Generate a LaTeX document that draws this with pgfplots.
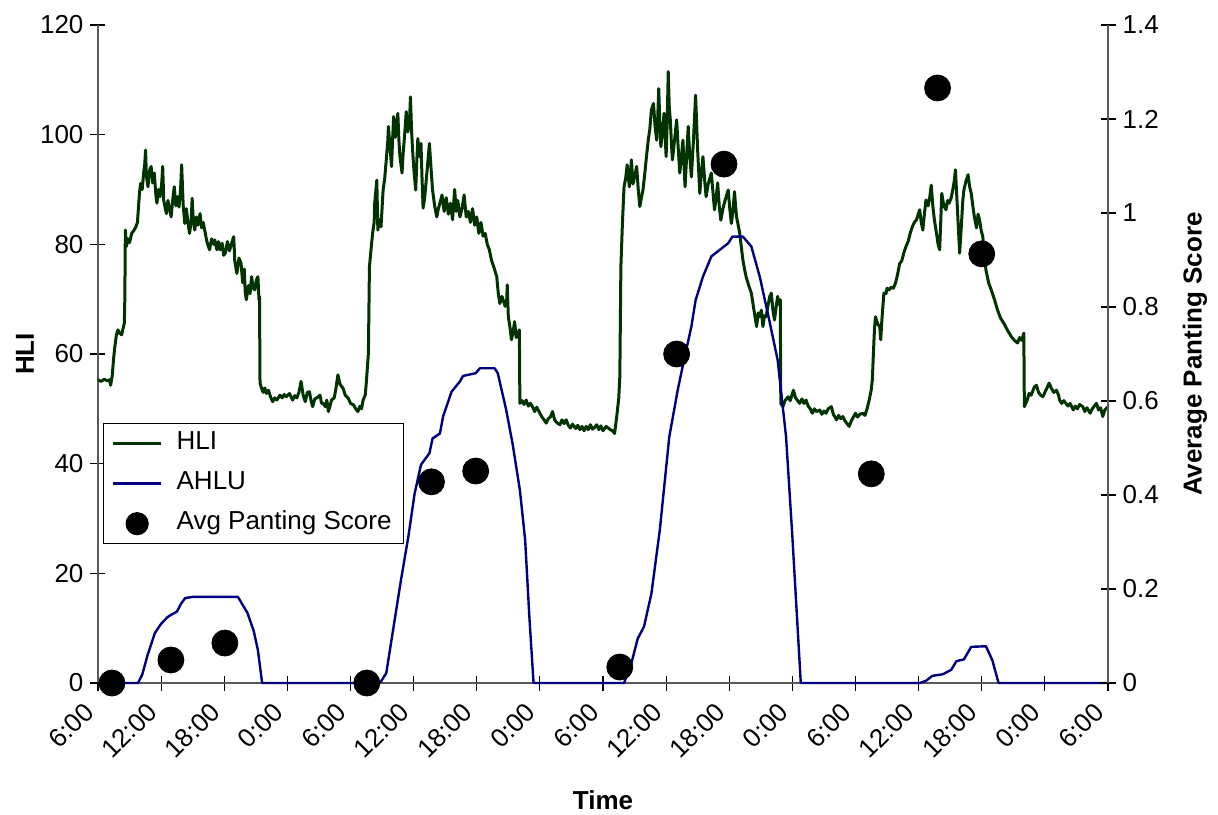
\documentclass[border=0pt]{standalone}
\usepackage{fontspec}
\setmainfont{Liberation Sans}
\usepackage{pgfplots}
\pgfplotsset{compat=1.18}
\definecolor{hli}{RGB}{0,51,0}
\definecolor{ahlu}{RGB}{0,0,128}
\pgfplotsset{
  common/.style={
    scale only axis, width=505pt, height=329pt,
    at={(0,0)}, anchor=south west,
    xmin=0, xmax=96,
    tick align=center, major tick length=7.5pt,
    every tick/.style={black, line width=0.6pt},
    /pgf/number format/assume math mode=true,
    tick label style={font=\fontsize{13}{15}\selectfont},
    label style={font=\bfseries\fontsize{13}{15}\selectfont},
    axis line style={black!65, line width=1pt},
    clip=false,
  }
}
\begin{document}
\begin{tikzpicture}
\path[use as bounding box] (-49pt,-65.5pt) rectangle (560pt,341.5pt);
\begin{axis}[common,
  axis x line*=bottom, axis y line*=left,
  ymin=0, ymax=120, ytick={0,20,40,60,80,100,120},
  xtick={0,6,...,96},
  xticklabels={6:00,12:00,18:00,0:00,6:00,12:00,18:00,0:00,6:00,12:00,18:00,0:00,6:00,12:00,18:00,0:00,6:00},
  xticklabel style={xshift=-2pt, yshift=-6pt, rotate=45, anchor=east},
  xlabel={Time}, ylabel={HLI},
  xlabel style={at={([yshift=-58.5pt]axis description cs:0.5,0)}, anchor=center},
  ylabel style={at={([xshift=-36.5pt]axis description cs:0,0.5)}, anchor=center},
]
\addplot[hli, line width=1.5pt, line join=round] coordinates {
(0,55.3) (0.3,55.0) (0.6,55.4) (0.9,55.1) (1.1,55.3) (1.2,54.3) (1.35,56) (1.5,59.5) (1.6,61.3) (1.75,63.5) (1.9,64.4) (2.05,63.8) (2.25,63.5) (2.4,64.8) (2.5,65.6) (2.55,70) (2.6,82.6) (2.7,79.6) (2.85,81.0) (3.0,80.3) (3.2,82.0) (3.4,82.5) (3.6,83.2) (3.75,84.0) (3.85,86.9) (3.95,89.5) (4.05,91.1) (4.2,90.0) (4.35,93.2) (4.45,94.8) (4.52,97.2) (4.6,92.5) (4.75,90.5) (4.9,93.5) (5.05,94.2) (5.2,91.2) (5.35,93.0) (5.5,89.0) (5.6,87.5) (5.75,90.0) (5.9,88.7) (6.05,91.0) (6.15,94.2) (6.25,88.0) (6.4,86.5) (6.5,85.6) (6.65,88.0) (6.8,86.5) (6.95,85.0) (7.1,88.0) (7.25,90.5) (7.4,87.0) (7.55,88.7) (7.7,86.8) (7.85,90.0) (7.95,94.5) (8.1,87.0) (8.25,83.8) (8.4,86.5) (8.55,84.0) (8.7,82.0) (8.85,84.0) (8.95,88.4) (9.05,84.5) (9.2,82.6) (9.35,85.0) (9.5,83.5) (9.7,85.6) (9.85,83.0) (10.0,84.0) (10.2,82.0) (10.35,80.5) (10.6,79.0) (10.8,81.0) (11.0,80.0) (11.1,80.8) (11.3,79.0) (11.45,80.5) (11.6,79.0) (11.8,80.2) (11.95,78.0) (12.1,78.4) (12.3,80.5) (12.5,78.8) (12.7,80.2) (12.9,81.4) (13.0,77.0) (13.2,74.7) (13.4,77.5) (13.6,76.5) (13.75,73.0) (13.9,75.5) (14.0,71.1) (14.1,69.9) (14.3,72.5) (14.45,71.0) (14.6,74.1) (14.75,72.0) (14.9,71.7) (15.05,73.5) (15.2,74.1) (15.3,69.9) (15.35,70.5) (15.4,54.7)
(15.5,54.0) (15.7,53.0) (15.85,53.8) (16.0,52.8) (16.2,53.4) (16.4,52.2) (16.6,51.3) (16.8,52.0) (17.0,51.6) (17.3,52.5) (17.5,52.0) (17.7,52.6) (17.9,52.2) (18.2,52.8) (18.5,51.6) (18.7,52.4) (18.9,52.0) (19.1,53.0) (19.3,55.0) (19.5,52.5) (19.7,51.3) (19.9,53.0) (20.1,53.1) (20.25,51.5) (20.4,50.4) (20.6,51.8) (20.8,52.0) (21.1,52.5) (21.25,51.0) (21.4,51.0) (21.6,50.4) (21.75,51.6) (21.9,49.5) (22.05,50.5) (22.2,51.6) (22.45,52.0) (22.6,53.5) (22.8,56.2) (23.0,54.5) (23.3,53.7) (23.5,52.5) (23.8,51.9) (24.0,51.0) (24.3,50.7) (24.5,50.0) (24.7,49.5) (24.9,50.5) (25.05,50.0) (25.2,51.6) (25.4,52.5) (25.5,54.7) (25.7,60.1) (25.8,75.9) (25.95,79.0) (26.1,82.0) (26.25,84.0) (26.3,87.5) (26.5,91.7) (26.6,82.6) (26.75,84.5) (26.9,83.2) (27.1,89.9) (27.25,92.0) (27.4,95.4) (27.55,99.0) (27.6,101.5) (27.75,98.0) (27.9,94.2) (28.0,99.0) (28.1,103.3) (28.25,99.5) (28.4,102.1) (28.5,103.9) (28.6,99.0) (28.7,96.0) (28.9,93.0) (29.0,96.5) (29.15,100.0) (29.3,104.2) (29.45,100.5) (29.6,102.1) (29.7,106.9) (29.8,101.0) (29.9,97.2) (30.05,93.0) (30.2,89.9) (30.3,95.0) (30.4,99.3) (30.55,96.0) (30.7,98.4) (30.8,92.0) (30.9,86.6) (31.05,88.5) (31.2,91.7) (31.35,95.0) (31.5,98.4) (31.65,94.0) (31.8,89.9) (32.0,87.0) (32.2,85.0) (32.35,86.5) (32.5,87.5)
(32.7,89.0) (32.9,86.0) (33.1,88.5) (33.3,85.5) (33.5,87.5) (33.7,84.5) (33.9,90.0) (34.05,86.0) (34.2,88.0) (34.4,85.0) (34.6,86.5) (34.8,89.0) (35.0,85.0) (35.2,86.0) (35.4,84.0) (35.6,86.5) (35.8,83.5) (36.0,85.0) (36.2,82.0) (36.4,84.0) (36.6,81.5) (36.8,82.0) (37.0,80.0) (37.2,79.0) (37.4,77.1) (37.6,76.0) (37.9,74.1) (38.05,71.0) (38.2,69.2) (38.4,70.5) (38.7,68.7) (38.85,70.0) (38.9,72.6) (39.0,66.8) (39.15,65.0) (39.3,62.6) (39.45,64.0) (39.6,65.9) (39.75,63.0) (39.9,63.5) (40.05,64.4) (40.1,51.0) (40.3,51.5) (40.5,50.8) (40.7,51.6) (40.9,50.5) (41.1,51.0) (41.3,50.4) (41.5,49.5) (41.7,50.3) (42.0,49.2) (42.2,48.5) (42.4,48.0) (42.6,47.4) (42.8,48.2) (43.0,48.5) (43.2,49.5) (43.4,48.0) (43.6,47.5) (43.9,47.1) (44.1,48.0) (44.3,47.3) (44.5,48.0) (44.7,47.0) (44.9,46.5) (45.1,47.2) (45.4,46.4) (45.6,47.0) (45.8,46.2) (46.0,46.8) (46.2,46.0) (46.4,46.8) (46.6,46.2) (46.8,47.1) (47.0,46.3) (47.2,46.6) (47.4,47.1) (47.6,46.2) (47.8,46.9) (48.0,46.0) (48.3,46.8) (48.5,46.5) (48.7,46.2) (48.9,46.0) (49.1,45.5) (49.3,48.5) (49.5,52.0) (49.6,55.9) (49.7,75.9) (49.85,84.0) (50.0,90.5) (50.15,92.0) (50.3,94.5) (50.5,90.5) (50.7,95.4) (50.85,91.0) (51.0,92.3) (51.2,94.2) (51.35,90.0) (51.5,86.9) (51.65,88.5) (51.8,89.9) (51.95,92.5) (52.1,95.4) (52.3,99.0) (52.45,101.0) (52.6,104.5) (52.8,105.7) (52.95,101.5) (53.1,99.0) (53.2,103.0) (53.3,108.4) (53.4,102.0) (53.5,97.8) (53.65,100.5) (53.8,103.9) (53.9,100.0) (54.0,96.0) (54.1,102.0) (54.2,111.5) (54.3,105.0) (54.4,102.7) (54.5,98.5) (54.6,95.4) (54.8,99.0) (55.0,102.7) (55.15,97.5) (55.3,93.0) (55.45,96.0) (55.6,99.0) (55.7,94.5) (55.8,90.5) (55.95,96.0) (56.1,101.5) (56.25,96.0) (56.4,92.3) (56.6,99.0) (56.8,107.2) (57.0,97.0) (57.2,89.3) (57.35,93.0) (57.5,96.0) (57.65,92.0) (57.8,88.7) (58.0,91.0) (58.3,93.0) (58.45,89.5) (58.6,86.3) (58.75,88.5) (58.9,91.2) (59.05,87.0) (59.2,84.4) (59.4,86.5) (59.6,88.0) (59.9,89.9) (60.05,86.5) (60.2,83.8) (60.35,86.0) (60.5,89.6) (60.6,87.0) (60.7,85.0) (60.85,83.5) (61.0,82.0) (61.15,79.5) (61.3,77.1) (61.45,75.5) (61.6,74.1) (61.85,72.5) (62.1,71.1) (62.35,68.0) (62.6,65.0) (62.75,67.5) (62.9,66.8) (63.05,68.0) (63.2,65.0) (63.35,67.0) (63.5,66.8) (63.7,69.0) (63.85,70.5) (64.0,71.1) (64.15,68.0) (64.3,66.2) (64.45,68.5) (64.6,70.5) (64.75,69.0) (64.85,69.9) (64.9,51.0)
(65.1,50.4) (65.3,51.5) (65.6,52.2) (65.8,51.5) (66.1,53.4) (66.3,52.0) (66.5,51.5) (66.7,51.0) (66.9,51.8) (67.1,51.0) (67.3,51.6) (67.5,50.5) (67.7,50.0) (67.9,49.2) (68.1,50.0) (68.3,49.5) (68.6,49.8) (68.8,49.0) (69.0,49.6) (69.2,49.2) (69.4,50.0) (69.7,50.4) (69.9,49.0) (70.2,48.0) (70.4,48.8) (70.6,48.2) (70.8,48.6) (71.0,47.8) (71.2,47.3) (71.4,46.8) (71.6,47.8) (71.8,48.5) (72.0,49.2) (72.2,48.5) (72.4,49.0) (72.7,49.2) (72.9,48.8) (73.1,50.0) (73.3,51.6) (73.5,53.5) (73.6,55.3) (73.7,60.0) (73.8,64.4) (73.9,66.8) (74.1,65.5) (74.3,65.0) (74.4,62.6) (74.5,66.0) (74.7,71.1) (74.9,71.0) (75.0,72.0) (75.2,71.7) (75.4,72.2) (75.6,72.0) (75.8,72.9) (76.0,74.5) (76.2,76.5) (76.4,77.0) (76.6,78.5) (76.8,79.6) (77.0,80.5) (77.2,82.0) (77.4,83.2) (77.6,84.0) (77.8,84.5) (78.1,86.3) (78.25,84.0) (78.4,82.6) (78.55,85.5) (78.7,88.1) (78.9,87.0) (79.05,88.5) (79.2,90.8) (79.35,87.0) (79.5,84.4) (79.7,82.0) (79.85,80.0) (80.0,79.0) (80.1,84.0) (80.2,89.3) (80.4,87.0) (80.6,86.3) (80.75,88.0) (80.9,87.5) (81.1,88.5) (81.25,90.0) (81.4,91.7) (81.5,93.6) (81.7,86.0) (81.9,78.4) (82.05,83.0) (82.2,88.0) (82.3,89.9) (82.5,91.5) (82.7,92.7) (82.85,90.5) (83.0,89.3) (83.15,87.0) (83.3,85.0) (83.5,83.0) (83.65,85.5) (83.8,84.4) (83.95,82.5) (84.1,81.4) (84.25,78.0) (84.4,75.3) (84.65,73.0) (84.9,71.7) (85.2,70.0) (85.5,68.0) (85.8,66.5) (86.1,65.6) (86.4,64.5) (86.8,63.2) (87.1,62.5) (87.4,62.0) (87.6,63.0) (87.8,62.5) (88.0,63.8) (88.05,50.4) (88.3,51.5) (88.5,52.8) (88.7,52.5) (89.0,54.0) (89.2,54.3) (89.4,53.0) (89.6,52.5) (89.8,52.2) (90.0,53.0) (90.2,53.8) (90.4,54.7) (90.6,53.8) (90.85,53.0) (91.1,53.4) (91.3,52.5) (91.4,51.6) (91.6,51.0) (91.8,51.5) (92.0,51.0) (92.2,50.5) (92.4,51.0) (92.7,49.8) (92.9,50.5) (93.1,50.0) (93.3,50.8) (93.6,50.4) (93.8,49.5) (94.0,50.2) (94.3,49.2) (94.5,50.0) (94.7,50.5) (94.9,51.0) (95.1,49.8) (95.3,50.2) (95.5,48.6) (95.7,49.8) (96.0,50.4)
};
\addplot[ahlu, line width=1.2pt, line join=round] coordinates {
(0,0) (3.8,0) (4.2,1.5) (4.7,5) (5.4,9.1) (6.0,10.8) (6.6,12.0) (7.0,12.5) (7.5,13.0) (7.9,14.5) (8.3,15.5) (9.0,15.7) (13.3,15.7) (14.2,12.8) (14.8,9.5) (15.2,6) (15.4,3) (15.6,0)
(26.8,0) (27.4,1.8) (28.0,9.1) (28.8,18.8) (29.5,26.7) (30.1,34.6) (30.7,39.8) (31.5,41.9) (31.8,44.6) (32.5,45.5) (32.8,48.6) (33.6,53.1) (34.4,55.0) (34.7,56.0) (35.9,56.5) (36.3,57.4) (37.7,57.4) (38.0,56.5) (38.8,49.8) (39.4,43.7) (40.1,35.2) (40.6,26.1) (41.0,12.1) (41.4,0)
(50.0,0) (50.7,3.6) (51.3,8.1) (51.9,10.3) (52.6,16.3) (53.4,27.9) (54.3,44.9) (55.1,53.4) (55.7,58.9) (56.4,65.0) (56.8,69.8) (57.5,74.1) (58.3,77.8) (59.1,79.0) (59.9,80.2) (60.3,81.4) (61.3,81.4) (62.1,79.6) (62.9,74.1) (63.8,66.2) (64.6,58.9) (65.4,44.9) (66.0,26.7) (66.8,0)
(78.1,0) (78.7,0.4) (79.3,1.3) (80.3,1.6) (81.1,2.4) (81.6,4.0) (82.3,4.3) (83.0,6.6) (84.4,6.7) (85.0,4.2) (85.6,0) (96,0)
};
\end{axis}
\begin{axis}[common,
  axis x line=none, axis y line*=right,
  ymin=0, ymax=1.4, ytick={0,0.2,0.4,0.6,0.8,1,1.2,1.4},
  ylabel={Average Panting Score},
  ylabel style={at={([xshift=43.5pt]axis description cs:1,0.5)}, anchor=center},
  legend style={at={(0.005,0.395)}, anchor=north west, draw=black, line width=0.6pt, fill=white,
    font=\fontsize{13}{15}\selectfont, inner xsep=4pt, inner ysep=0pt, row sep=0pt,
    nodes={inner sep=2pt, text height=11pt, text depth=5pt}},
  legend cell align=left,
]
\addlegendimage{hli, line width=1.5pt, legend image code/.code={\draw[hli, line width=1.5pt] (0pt,0pt) -- (24pt,0pt); \path (29pt,0pt);}}
\addlegendentry{HLI}
\addlegendimage{ahlu, line width=1.2pt, legend image code/.code={\draw[ahlu, line width=1.2pt] (0pt,0pt) -- (24pt,0pt); \path (29pt,0pt);}}
\addlegendentry{AHLU}
\addplot[only marks, mark=*, mark size=6.5pt, black,
  legend image code/.code={\fill[black] (12pt,0pt) circle (5.5pt); \path (29pt,0pt);}] coordinates {
(1.33,0) (6.93,0.049) (12.06,0.085) (25.55,0) (31.7,0.428) (35.9,0.451) (49.6,0.034) (55.0,0.70) (59.5,1.104) (73.5,0.445) (79.8,1.266) (84.0,0.913)
};
\addlegendentry{Avg Panting Score}
\end{axis}
\end{tikzpicture}
\end{document}
